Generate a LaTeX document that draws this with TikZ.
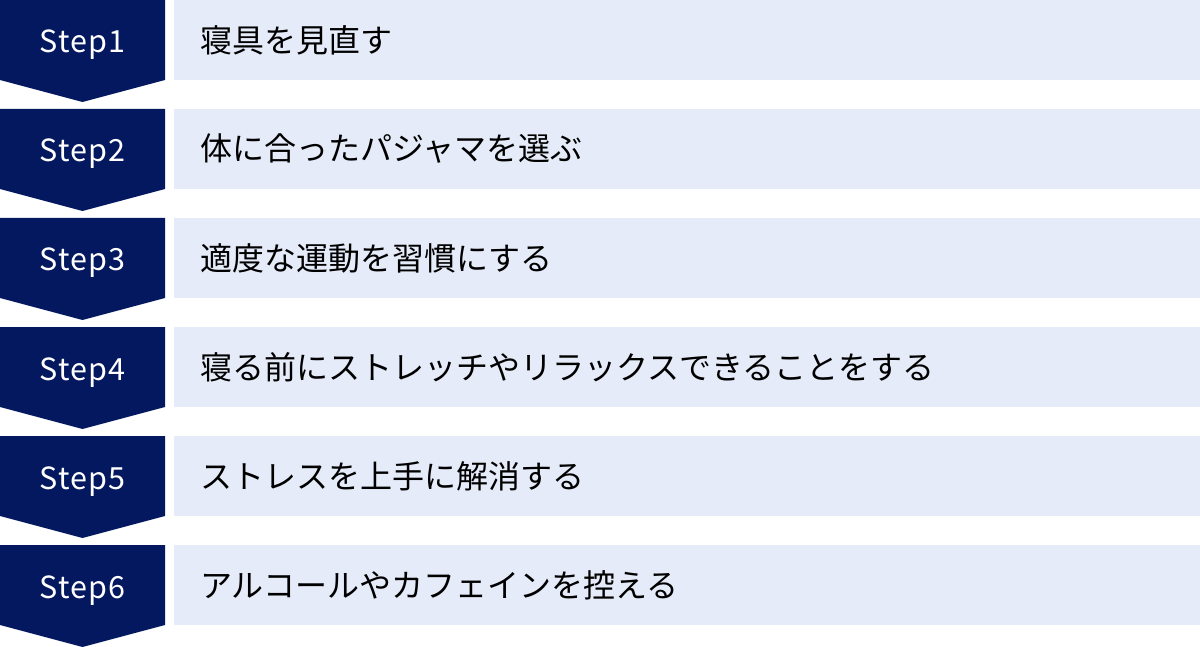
\documentclass[tikz,border=0pt]{standalone}
\usepackage{fontspec}
\newfontfamily\jpfont{Noto Sans CJK JP}
\newfontfamily\latinfont[LetterSpace=4]{Noto Sans CJK JP}
\definecolor{navy}{RGB}{4,24,96}
\definecolor{lightbg}{RGB}{229,235,248}
\begin{document}
\begin{tikzpicture}[x=1pt,y=-1pt,
  steplabel/.style={text=white,font=\latinfont\fontsize{30.5}{36}\selectfont,anchor=base,inner sep=0pt},
  itemtext/.style={text=black,font=\jpfont\fontsize{32}{38}\selectfont,anchor=west,inner sep=0pt}]
\useasboundingbox (0,0) rectangle (1200,647);
\foreach \i/\t in {1/寝具を見直す,2/体に合ったパジャマを選ぶ,3/適度な運動を習慣にする,4/寝る前にストレッチやリラックスできることをする,5/ストレスを上手に解消する,6/アルコールやカフェインを控える}{
  \pgfmathsetmacro{\yy}{(\i-1)*109}
  \fill[navy] (0,\yy) -- (165,\yy) -- (165,\yy+80) -- (82.5,\yy+102) -- (0,\yy+80) -- cycle;
  \fill[lightbg] (174,\yy) rectangle (1200,\yy+80);
  \node[steplabel] (s\i) at (82.5,\yy+53) {Step\i};
  \node[itemtext] (t\i) at (200,\yy+40) {\t};
}
\end{tikzpicture}
\end{document}
